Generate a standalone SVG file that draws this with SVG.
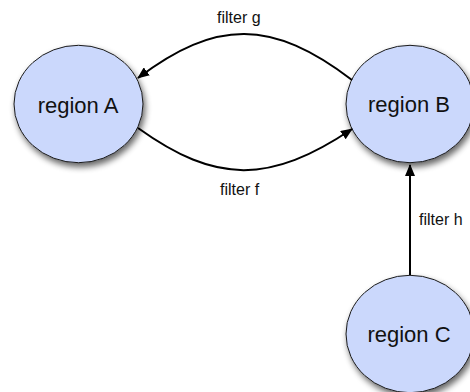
<svg xmlns="http://www.w3.org/2000/svg" width="470" height="392" viewBox="0 0 470 392">
  <style>
    .region ellipse { fill: #cbd8fc; stroke: #1a1a1a; stroke-width: 1; filter: url(#shadow); }
    .region text { font-family: "Liberation Sans", Arial, sans-serif; font-size: 22px; fill: #111; text-anchor: middle; }
    .edge { fill: none; stroke: #000; stroke-width: 2; marker-end: url(#arrow); }
    .label { font-family: "Liberation Sans", Arial, sans-serif; font-size: 16px; fill: #111; }
  </style>
  <defs>
    <filter id="shadow" x="-20%" y="-20%" width="150%" height="150%">
      <feGaussianBlur in="SourceAlpha" stdDeviation="3"/>
      <feOffset dx="2" dy="4" result="blur"/>
      <feComponentTransfer><feFuncA type="linear" slope="0.6"/></feComponentTransfer>
      <feMerge><feMergeNode/><feMergeNode in="SourceGraphic"/></feMerge>
    </filter>
    <marker id="arrow" viewBox="0 0 12 10" refX="11" refY="5" markerWidth="6" markerHeight="5" orient="auto" markerUnits="strokeWidth">
      <path d="M0,0 L12,5 L0,10 z" fill="#000"/>
    </marker>
  </defs>

  <g id="region-A" class="region">
    <ellipse cx="78.5" cy="104" rx="64.5" ry="58.7"/>
    <text x="78" y="112.5">region A</text>
  </g>
  <g id="region-B" class="region">
    <ellipse cx="410" cy="104" rx="64" ry="58.7"/>
    <text x="409" y="112">region B</text>
  </g>
  <g id="region-C" class="region">
    <ellipse cx="410" cy="334" rx="64" ry="58.7"/>
    <text x="409" y="342">region C</text>
  </g>

  <g id="connectors">
    <path class="edge" d="M352,80 C272,19 216,19 138,78"/>
    <path class="edge" d="M138,128 C216,184 270,184 352,129"/>
    <path class="edge" d="M410,275 L410,165"/>
    <text class="label" x="217" y="23">filter g</text>
    <text class="label" x="220" y="195">filter f</text>
    <text class="label" x="419" y="225">filter h</text>
  </g>
</svg>
